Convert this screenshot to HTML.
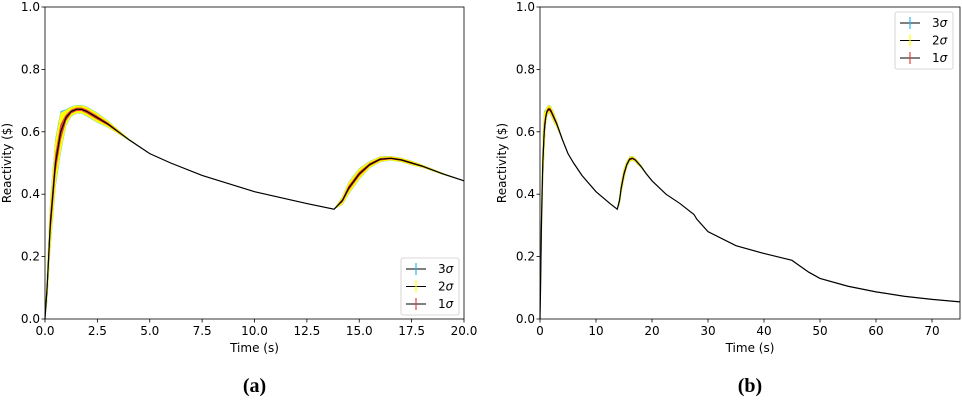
<!DOCTYPE html>
<html><head><meta charset="utf-8"><style>
body{margin:0;background:#fff;width:962px;height:400px;overflow:hidden}
svg text{font-family:"DejaVu Sans","Liberation Sans",sans-serif;fill:#000}
.cap{font-family:"Liberation Serif",serif;font-weight:bold;font-size:20px}
</style></head><body>
<svg id="s" width="962" height="400"></svg>
<script>
// shared data
const times=[0,0.1,0.25,0.5,0.75,1.0,1.25,1.5,1.75,2.0,2.5,3,3.5,4,5,6,7.5,10,12.5,13.8,14.2,14.5,15,15.5,16,16.5,17,17.5,18,19,20,22.5,25,27.5,28,30,35,40,45,46,48,50,55,60,65,70,75];
const reactivity=[0,0.1,0.3,0.5,0.6,0.645,0.665,0.672,0.672,0.665,0.645,0.625,0.6,0.575,0.53,0.5,0.46,0.408,0.37,0.352,0.38,0.42,0.465,0.495,0.512,0.515,0.51,0.5,0.49,0.465,0.443,0.4,0.37,0.335,0.32,0.28,0.235,0.21,0.188,0.175,0.15,0.13,0.105,0.087,0.073,0.063,0.055];
const sigma=[0,0.02,0.035,0.035,0.03,0.012,0.007,0.006,0.006,0.007,0.007,0.005,0.003,0.001,0,0,0,0,0,0,0.006,0.009,0.008,0.005,0.004,0.003,0.003,0.003,0.002,0.001,0,0,0,0,0,0,0,0,0,0,0,0,0,0,0,0,0];
const yTicks=[0,0.2,0.4,0.6,0.8,1.0];
const xTicksA=[0,2.5,5,7.5,10,12.5,15,17.5,20];
const xTicksB=[0,10,20,30,40,50,60,70];
const NS='http://www.w3.org/2000/svg';
const svg=document.getElementById('s');
function el(t,a,p){const e=document.createElementNS(NS,t);for(const k in a)e.setAttribute(k,a[k]);(p||svg).appendChild(e);return e;}
function chart(id,L,R,T,B,xmax,xt,fmt,legY,legX,cap){
  const g=el('g',{});
  
  
  const X=v=>L+v/xmax*(R-L), Y=v=>B-v*(B-T);
  const idx=times.map((t,i)=>i).filter(i=>times[i]<=xmax+1e-9);
  const bands=[[2.2,'#4fc3f7','3sigma'],[2,'#ffff00','2sigma'],[0.8,'#e8403a','1sigma']];
  bands.forEach(([k,c,n])=>{
    let up=idx.map(i=>X(times[i])+','+Y(reactivity[i]+k*sigma[i])).join(' ');
    let dn=idx.slice().reverse().map(i=>X(times[i])+','+Y(reactivity[i]-k*sigma[i])).join(' ');
    const p=el('polygon',{points:up+' '+dn,fill:c,stroke:c,'stroke-width':0.5},g);
    
    
  });
  const ln=el('polyline',{points:idx.map(i=>X(times[i])+','+Y(reactivity[i])).join(' '),fill:'none',stroke:'#000','stroke-width':1.2},g);
  
  
  const fr=el('rect',{x:L,y:T,width:R-L,height:B-T,fill:'none',stroke:'#000','stroke-width':0.8},g);
  
  
  yTicks.forEach(v=>{
    el('line',{x1:L-3.5,x2:L,y1:Y(v),y2:Y(v),stroke:'#000','stroke-width':0.8},g);
    const t=el('text',{x:L-5,y:Y(v)+4,'font-size':12,'text-anchor':'end'},g);
    t.textContent=v.toFixed(1);
    
    
  });
  xt.forEach(v=>{
    el('line',{x1:X(v),x2:X(v),y1:B,y2:B+3.5,stroke:'#000','stroke-width':0.8},g);
    const t=el('text',{x:X(v),y:B+16,'font-size':12,'text-anchor':'middle'},g);
    t.textContent=fmt(v);
    
    
  });
  const xl=el('text',{x:(L+R)/2,y:B+33,'font-size':12,'text-anchor':'middle'},g);
  xl.textContent='Time (s)';
  
  
  const yl=el('text',{x:0,y:0,'font-size':12,'text-anchor':'middle',transform:`translate(${L-34},${(T+B)/2}) rotate(-90)`},g);
  yl.textContent='Reactivity ($)';
  
  
  const lg=el('g',{},g);
  
  
  el('rect',{x:legX,y:legY,width:58,height:57,rx:2,fill:'#fff',stroke:'#ccc','stroke-width':0.8},lg);
  [['3σ','#29b6f6'],['2σ','#ffff00'],['1σ','#e8403a']].forEach(([s,c],i)=>{
    const yy=legY+11+i*17.5;
    const e=el('g',{},lg);
    
    
    el('line',{x1:legX+5,x2:legX+25,y1:yy,y2:yy,stroke:'#000','stroke-width':1},e);
    el('line',{x1:legX+15,x2:legX+15,y1:yy-6,y2:yy+6,stroke:c,'stroke-width':1.2},e);
    const t=el('text',{x:legX+37,y:yy+4,'font-size':12},e);
    t.textContent=s[0];
    const ts=el('tspan',{'font-style':'italic'},t);ts.textContent='σ';
  });
  const c=el('text',{x:(L+R)/2,y:392,'text-anchor':'middle',class:'cap'},g);
  c.textContent=cap;
  
  
}
chart('chart-a',45,464,7,319,20,xTicksA,v=>v.toFixed(1),258,401,'(a)');
chart('chart-b',540,960,7,319,75,xTicksB,v=>String(v),12,895,'(b)');
</script>
</body></html>
